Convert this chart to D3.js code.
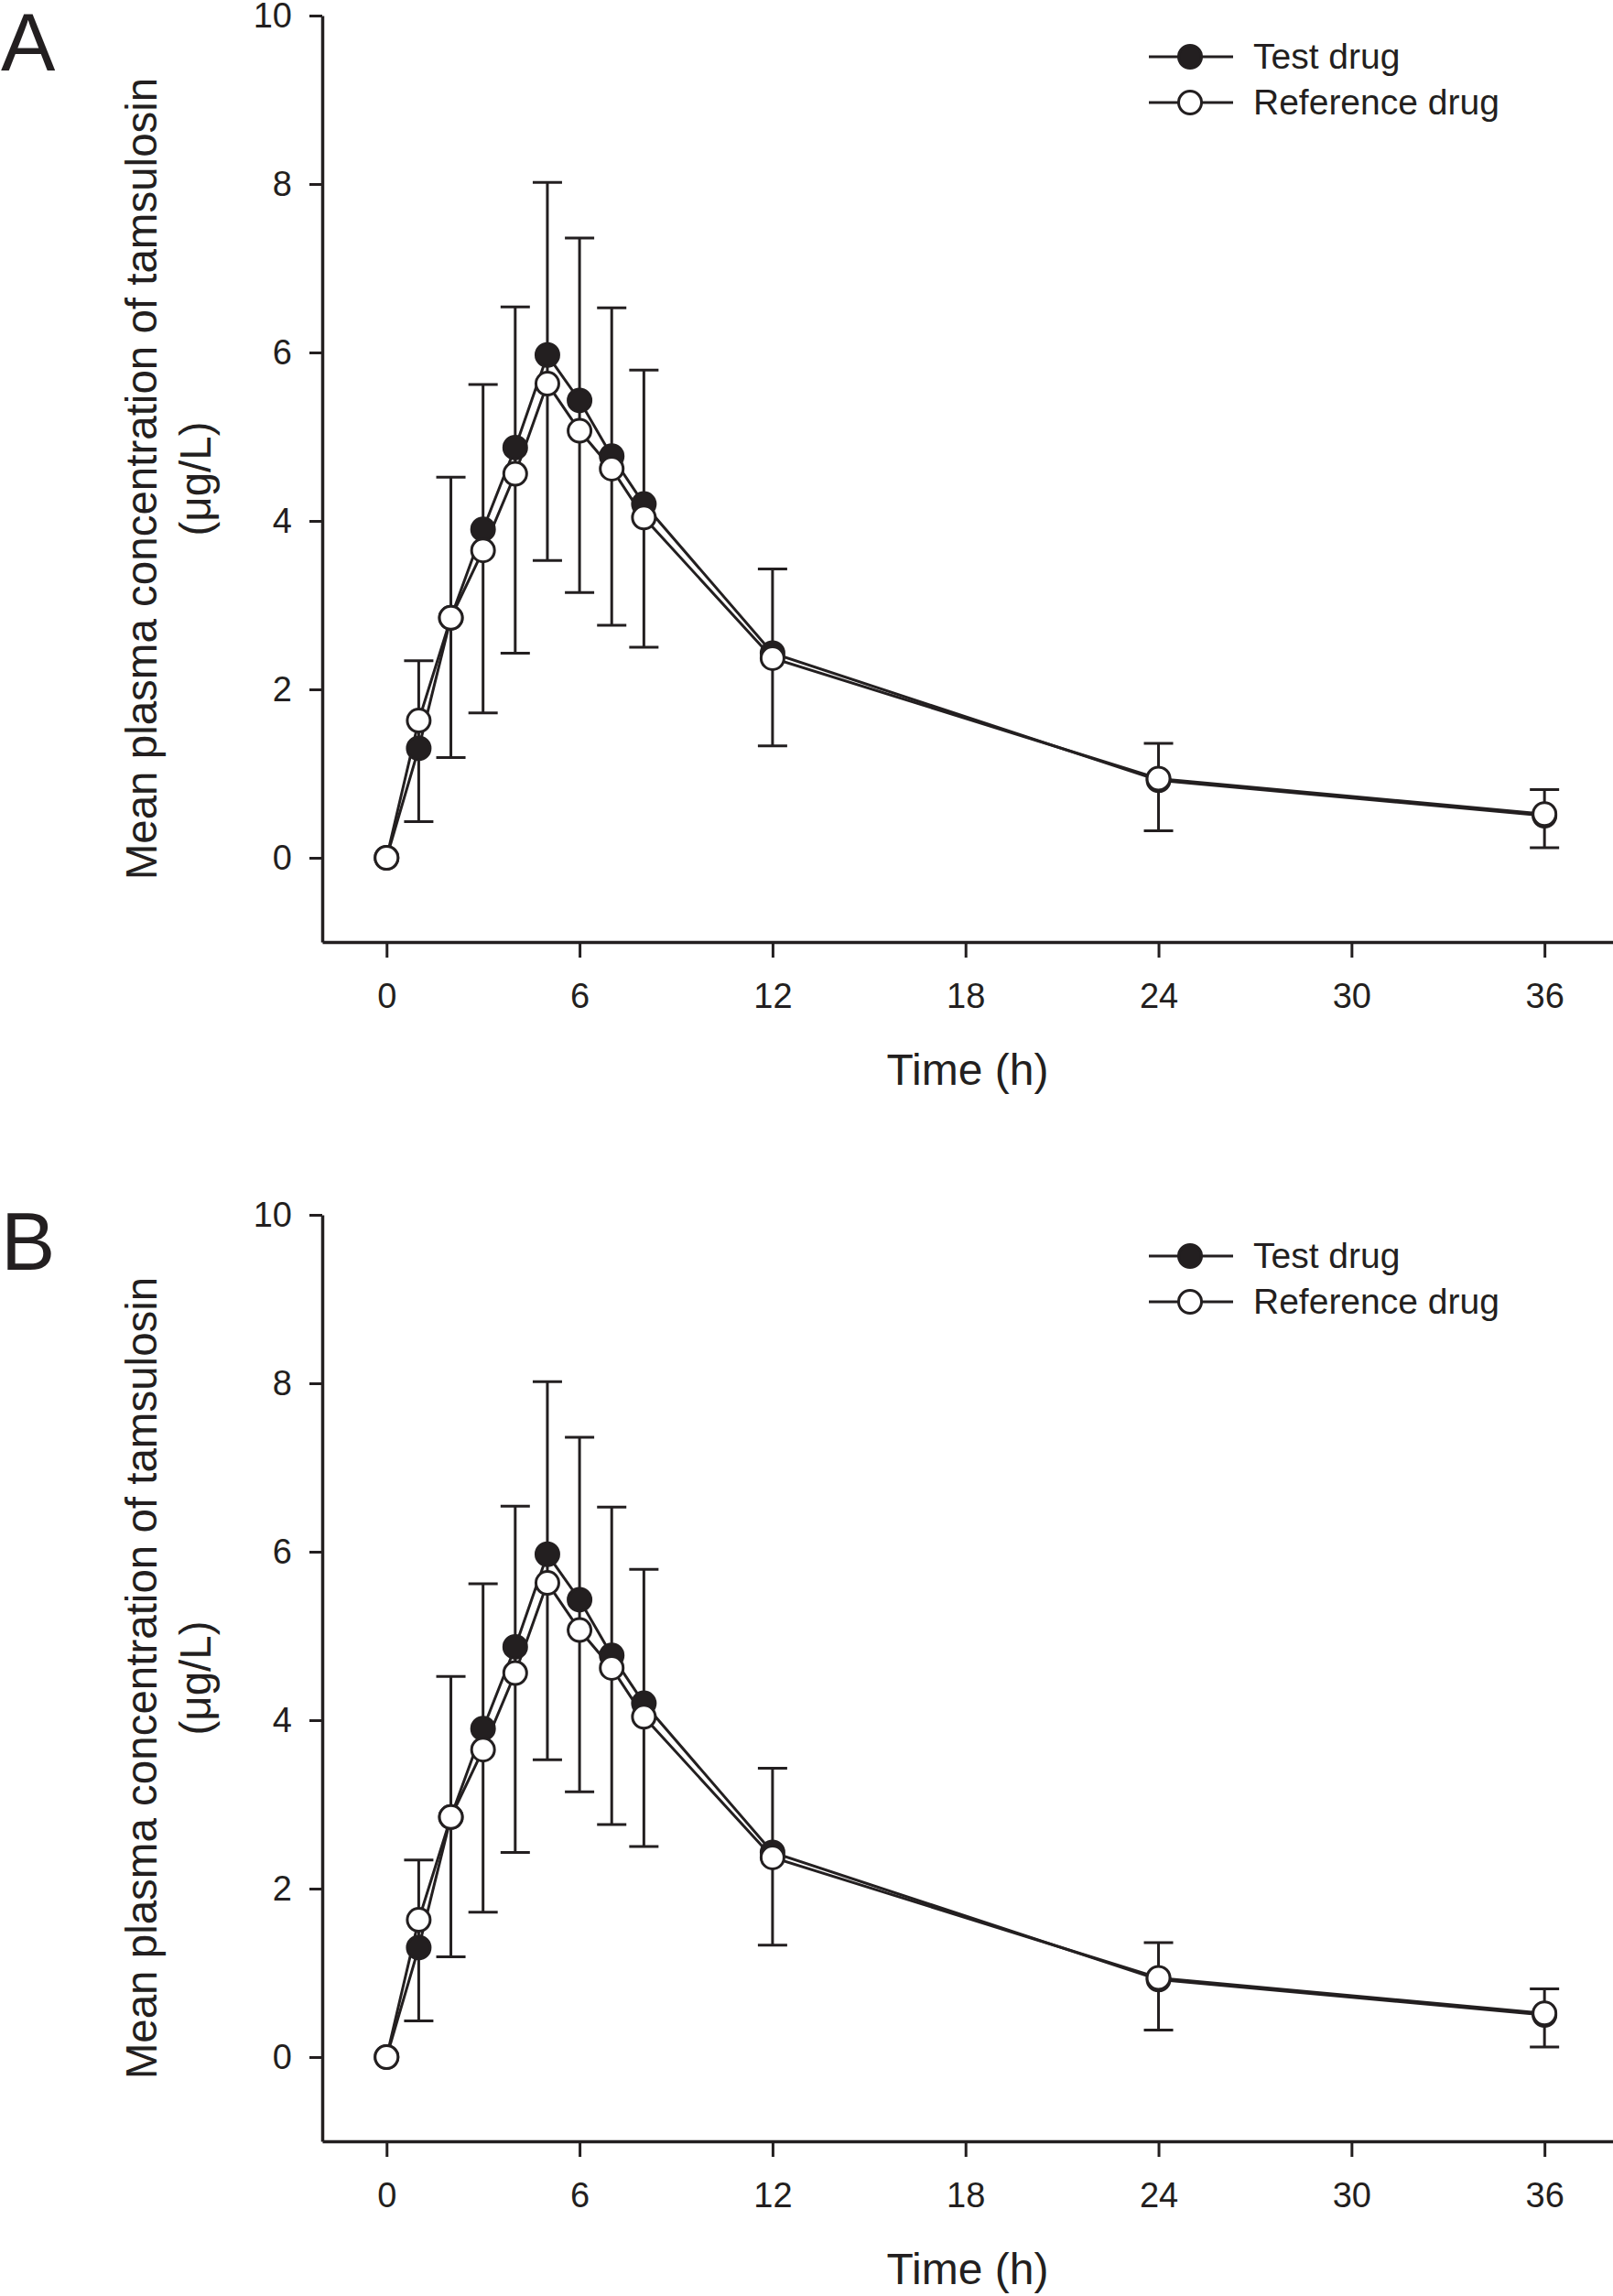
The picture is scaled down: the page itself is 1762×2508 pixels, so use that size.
<!DOCTYPE html>
<html>
<head>
<meta charset="utf-8">
<script src="https://cdn.jsdelivr.net/npm/d3@7"></script>
<style>
  html, body { margin: 0; padding: 0; background: #fff; }
  svg { display: block; }
  text { font-family: "Liberation Sans", Arial, sans-serif; fill: #231f20; }
</style>
</head>
<body>
<svg class="graph" width="1762" height="2508"></svg>
<script>
// data (mean plasma tamsulosin, ug/L)
var times = [0, 1, 2, 3, 4, 5, 6, 7, 8, 12, 24, 36];
var testDrug = [0, 1.30, 2.85, 3.90, 4.87, 5.97, 5.43, 4.77, 4.20, 2.43, 0.92, 0.50];
var refDrug = [0, 1.63, 2.85, 3.65, 4.56, 5.63, 5.07, 4.62, 4.04, 2.37, 0.94, 0.52];
// error bar ends (upper from test drug, lower from reference drug)
var errUpper = [null, 2.34, 4.52, 5.62, 6.54, 8.02, 7.36, 6.53, 5.79, 3.43, 1.36, 0.81];
var errLower = [null, 0.43, 1.19, 1.72, 2.43, 3.53, 3.15, 2.76, 2.50, 1.33, 0.32, 0.12];

var xTicks = [0, 6, 12, 18, 24, 30, 36];
var yTicks = [0, 2, 4, 6, 8, 10];
var panels = ["A", "B"];
var legendLabels = ["Test drug", "Reference drug"];

var ink = "#231f20";
var svg = d3.select(".graph");

// scales are shared, panels are shifted
var x = d3.scaleLinear().domain([-2, 38.13]).range([352, 1762]);
var y = d3.scaleLinear().domain([-1, 10]).range([1029, 17]);
var r = 12.5;

panels.forEach(function (letter, i) {
  var g = svg.append("g").attr("transform", "translate(0," + (i * 1310) + ")");
  drawPanel(g, letter);
});

function drawPanel(g, letter) {
  g.append("text")
    .attr("x", 1).attr("y", 77)
    .attr("font-size", 89)
    .text(letter);

  // axes
  var yAxis = g.append("g")
    .attr("transform", "translate(" + x(-2) + ",0)")
    .call(d3.axisLeft(y).tickValues(yTicks).tickSize(14).tickSizeOuter(0).tickPadding(19));

  var xAxis = g.append("g")
    .attr("transform", "translate(0," + y(-1) + ")")
    .call(d3.axisBottom(x).tickValues(xTicks).tickSize(17).tickSizeOuter(0).tickPadding(28));

  [yAxis, xAxis].forEach(function (ax) {
    ax.select(".domain").attr("stroke", ink).attr("stroke-width", 3.5);
    ax.selectAll(".tick line").attr("stroke", ink).attr("stroke-width", 3);
    ax.selectAll(".tick text")
      .attr("fill", ink)
      .attr("font-size", 38)
      .attr("font-family", "Liberation Sans, Arial, sans-serif");
  });

  // axis titles
  g.append("text")
    .attr("x", (x(-2) + 1762) / 2)
    .attr("y", 1185)
    .attr("text-anchor", "middle")
    .attr("font-size", 48)
    .text("Time (h)");

  var ty = g.append("text")
    .attr("transform", "translate(171," + ((y(10) + y(-1)) / 2) + ") rotate(-90)")
    .attr("text-anchor", "middle")
    .attr("font-size", 47.5);
  ty.append("tspan").attr("x", 0).attr("y", 0).text("Mean plasma concentration of tamsulosin");
  ty.append("tspan").attr("x", 0).attr("y", 59).text("(\u03bcg/L)");

  // error bars
  var bars = times.map(function (t, k) {
    return {t: t, hi: errUpper[k], lo: errLower[k]};
  }).filter(function (d) { return d.hi != null; });

  var eb = g.append("g").attr("stroke", ink).attr("stroke-width", 3).attr("fill", "none");
  eb.selectAll("line.v").data(bars).enter().append("line")
    .attr("x1", function (d) { return x(d.t); })
    .attr("x2", function (d) { return x(d.t); })
    .attr("y1", function (d) { return y(d.hi); })
    .attr("y2", function (d) { return y(d.lo); });
  eb.selectAll("line.hi").data(bars).enter().append("line")
    .attr("x1", function (d) { return x(d.t) - 16; })
    .attr("x2", function (d) { return x(d.t) + 16; })
    .attr("y1", function (d) { return y(d.hi); })
    .attr("y2", function (d) { return y(d.hi); });
  eb.selectAll("line.lo").data(bars).enter().append("line")
    .attr("x1", function (d) { return x(d.t) - 16; })
    .attr("x2", function (d) { return x(d.t) + 16; })
    .attr("y1", function (d) { return y(d.lo); })
    .attr("y2", function (d) { return y(d.lo); });

  // lines + markers
  var line = d3.line()
    .x(function (d) { return x(d[0]); })
    .y(function (d) { return y(d[1]); });

  var series = [
    {vals: testDrug, fill: ink},
    {vals: refDrug, fill: "#fff"}
  ];

  series.forEach(function (s) {
    g.append("path")
      .datum(times.map(function (t, k) { return [t, s.vals[k]]; }))
      .attr("d", line)
      .attr("fill", "none")
      .attr("stroke", ink)
      .attr("stroke-width", 3);
  });

  series.forEach(function (s) {
    g.append("g").selectAll("circle")
      .data(times.map(function (t, k) { return [t, s.vals[k]]; }))
      .enter().append("circle")
      .attr("cx", function (d) { return x(d[0]); })
      .attr("cy", function (d) { return y(d[1]); })
      .attr("r", r)
      .attr("fill", s.fill)
      .attr("stroke", ink)
      .attr("stroke-width", 3);
  });

  // legend
  var lg = g.append("g");
  legendLabels.forEach(function (lab, k) {
    var ly = 62 + k * 50;
    lg.append("line")
      .attr("x1", 1255).attr("x2", 1347)
      .attr("y1", ly).attr("y2", ly)
      .attr("stroke", ink).attr("stroke-width", 3);
    lg.append("circle")
      .attr("cx", 1300).attr("cy", ly).attr("r", r)
      .attr("fill", series[k].fill)
      .attr("stroke", ink).attr("stroke-width", 3);
    lg.append("text")
      .attr("x", 1369).attr("y", ly + 13)
      .attr("font-size", 39)
      .text(lab);
  });
}
</script>
</body>
</html>
